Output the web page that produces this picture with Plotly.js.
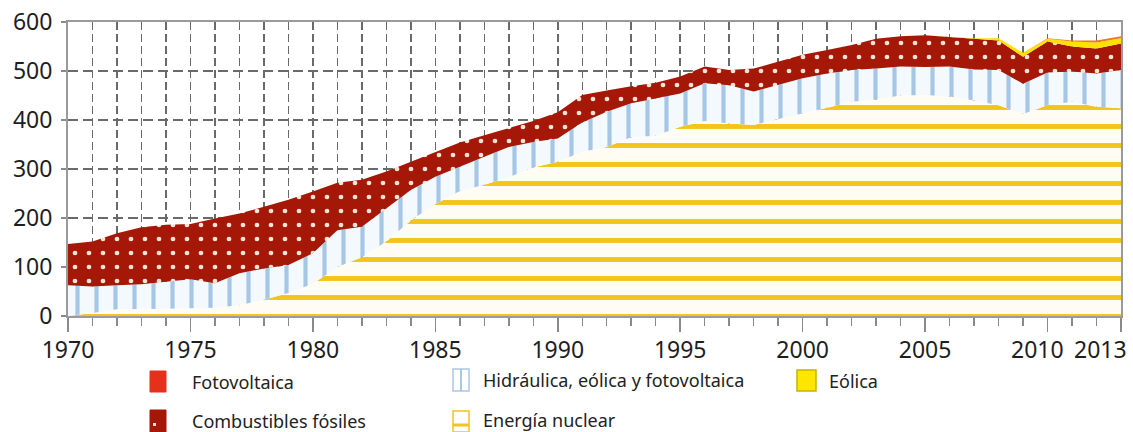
<!DOCTYPE html>
<html>
<head>
<meta charset="utf-8">
<script src="https://cdn.plot.ly/plotly-3.0.1.min.js"></script>
<style>
html,body{margin:0;padding:0;background:#ffffff;}
#chart{width:1133px;height:432px;}
</style>
</head>
<body>
<div id="chart"></div>
<script>
// ---- data ----
const years = [1970,1971,1972,1973,1974,1975,1976,1977,1978,1979,
               1980,1981,1982,1983,1984,1985,1986,1987,1988,1989,
               1990,1991,1992,1993,1994,1995,1996,1997,1998,1999,
               2000,2001,2002,2003,2004,2005,2006,2007,2008,2009,
               2010,2011,2012,2013];
// Energía nuclear
const nuclear = [0,6,14,14,15,16,17,22,33,47,
                 66,100,120,152,195,228,255,268,283,303,
                 315,335,345,365,368,386,398,393,390,402,
                 413,425,437,442,450,451,448,440,430,412,
                 430,437,427,424];
// Hidráulica, eólica y fotovoltaica
const hydro = [63,54,49,51,55,59,50,65,64,57,
               62,75,62,68,62,56,50,57,62,52,
               47,60,72,69,76,68,77,78,68,69,
               72,70,65,63,59,57,61,63,72,62,
               67,62,68,78];
// Combustibles fósiles
const fossil = [84,92,106,116,116,113,132,122,126,133,
                126,97,96,75,58,51,49,44,38,43,
                54,56,43,35,32,35,34,31,47,48,
                48,48,51,61,62,65,60,62,60,55,
                63,51,51,54];
// Eólica
const wind = [0,0,0,0,0,0,0,0,0,0,
              0,0,0,0,0,0,0,0,0,0,
              0,0,0,0,0,0,0,0,0,0,
              0,0,0,0,0,0,1,2,5,8,
              6,10,12,11];
// Fotovoltaica
const solar = [0,0,0,0,0,0,0,0,0,0,
               0,0,0,0,0,0,0,0,0,0,
               0,0,0,0,0,0,0,0,0,0,
               0,0,0,0,0,0,0,0,0,0,
               1,2,4,4];

const xTickVals = [1970,1975,1980,1985,1990,1995,2000,2005,2010,2013];
const xTickText = ['1970','1975','1980','1985','1990','1995','2000','2005','',''];
const xEdgeLabels = ['2010','2013'];   // drawn as annotations so they stay inside the page
const yTickVals = [0,100,200,300,400,500,600];
const yTickText = ['0','100','200','300','400','500','600'];

const labels = {
  solar: 'Fotovoltaica',
  fossil: 'Combustibles fósiles',
  hydro: 'Hidráulica, eólica y fotovoltaica',
  nuclear: 'Energía nuclear',
  wind: 'Eólica'
};

// ---- geometry ----
const W = 1133, H = 432;
const PL = 68, PR = 1121, PT = 22, PB = 316;
const xp = px => (px - PL) / (PR - PL);
const yp = py => (PB - py) / (PB - PT);

const FONT = 'Noto Sans, Open Sans, DejaVu Sans, sans-serif';
const TICKFONT = {family: FONT, size: 23, color: '#1e1e1e'};

const traces = [
  {
    x: years, y: nuclear, name: labels.nuclear, stackgroup: 'one', mode: 'lines',
    line: {width: 0, color: '#f2c417'},
    fillcolor: '#fffdf3',
    fillpattern: {shape: '-', fgcolor: '#f2c41c', bgcolor: '#fffdf3', size: 19, solidity: 0.26},
    showlegend: false, hoverinfo: 'skip'
  },
  {
    x: years, y: hydro, name: labels.hydro, stackgroup: 'one', mode: 'lines',
    line: {width: 0, color: '#a9c8e6'},
    fillcolor: '#f4f9fd',
    fillpattern: {shape: '|', fgcolor: '#a6c6e6', bgcolor: '#f4f9fd', size: 19, solidity: 0.22},
    showlegend: false, hoverinfo: 'skip'
  },
  {
    x: years, y: fossil, name: labels.fossil, stackgroup: 'one', mode: 'lines',
    line: {width: 0, color: '#a81a0a'},
    fillcolor: '#a51808',
    fillpattern: {shape: '.', fgcolor: '#fbe3d6', bgcolor: '#a51808', size: 14, solidity: 0.09},
    showlegend: false, hoverinfo: 'skip'
  },
  {
    x: years, y: wind, name: labels.wind, stackgroup: 'one', mode: 'lines',
    line: {width: 0, color: '#ffe000'},
    fillcolor: '#ffe100',
    showlegend: false, hoverinfo: 'skip'
  },
  {
    x: years, y: solar, name: labels.solar, stackgroup: 'one', mode: 'lines',
    line: {width: 0, color: '#e8501c'},
    fillcolor: '#ee7a1c',
    showlegend: false, hoverinfo: 'skip'
  }
];

// ---- manual legend ----
const shapes = [];
const annotations = [];
function rect(x0, y0, x1, y1, fill, lineColor, lw) {
  shapes.push({type: 'rect', xref: 'paper', yref: 'paper',
    x0: xp(x0), x1: xp(x1), y0: yp(y1), y1: yp(y0),
    fillcolor: fill, line: {color: lineColor, width: lw}});
}
function seg(x0, y0, x1, y1, color, lw) {
  shapes.push({type: 'line', xref: 'paper', yref: 'paper',
    x0: xp(x0), x1: xp(x1), y0: yp(y0), y1: yp(y1),
    line: {color: color, width: lw}});
}
function label(text, px, py) {
  annotations.push({text: text, xref: 'paper', yref: 'paper', x: xp(px), y: yp(py),
    xanchor: 'left', yanchor: 'middle', showarrow: false,
    font: {family: FONT, size: 18, color: '#222222'}});
}
// Fotovoltaica
rect(150, 371, 166, 392, '#e5301c', '#e5301c', 1);
label(labels.solar, 190, 382);
// Combustibles fósiles
rect(150, 410, 166, 432, '#a51808', '#a51808', 1);
rect(153, 423, 156, 426, '#fbe3d6', '#fbe3d6', 0);
label(labels.fossil, 190, 421);
// Hidráulica
rect(453, 369, 469, 391, '#ffffff', '#a9c8e6', 1.5);
seg(461, 369, 461, 391, '#a9c8e6', 2);
label(labels.hydro, 481, 380);
// Energía nuclear
rect(453, 411, 469, 432, '#ffffff', '#f2c41c', 1.5);
seg(453, 425, 469, 425, '#f2c41c', 3);
label(labels.nuclear, 481, 420);
// Eólica
rect(797, 370, 816, 391, '#ffe600', '#c8b400', 1.5);
label(labels.wind, 827, 381);

// edge tick labels (2010, 2013)
annotations.push({text: xEdgeLabels[0], xref: 'x', yref: 'paper', x: 2010, y: yp(349),
  xanchor: 'center', yanchor: 'middle', xshift: -10, showarrow: false, font: TICKFONT});
annotations.push({text: xEdgeLabels[1], xref: 'x', yref: 'paper', x: 2013, y: yp(349),
  xanchor: 'right', yanchor: 'middle', xshift: 8, showarrow: false, font: TICKFONT});

const layout = {
  width: W, height: H,
  margin: {l: PL, r: W - PR, t: PT, b: H - PB, pad: 0},
  paper_bgcolor: '#ffffff', plot_bgcolor: '#ffffff',
  showlegend: false,
  xaxis: {
    range: [1970, 2013], tickmode: 'array', tickvals: xTickVals, ticktext: xTickText,
    ticks: 'outside', ticklen: 14, tickwidth: 1.5, tickcolor: '#8a8a8a',
    showline: true, linecolor: '#9a9a9a', linewidth: 2, mirror: true,
    showgrid: true, gridcolor: '#6a6a6a', gridwidth: 1.5, griddash: '8px,4px',
    zeroline: false,
    minor: {tickmode: 'linear', tick0: 1970, dtick: 1, ticks: 'outside', ticklen: 8,
            tickwidth: 1.5, tickcolor: '#8a8a8a', showgrid: true, gridcolor: '#6a6a6a',
            gridwidth: 1.5, griddash: '8px,4px'},
    tickfont: TICKFONT,
    ticklabelstandoff: -2,
    fixedrange: true
  },
  yaxis: {
    range: [0, 600], tickmode: 'array', tickvals: yTickVals, ticktext: yTickText,
    ticks: 'outside', ticklen: 5, tickwidth: 1.5, tickcolor: '#8a8a8a',
    showline: true, linecolor: '#9a9a9a', linewidth: 2, mirror: true,
    showgrid: true, gridcolor: '#6a6a6a', gridwidth: 1.5, griddash: '10px,5px',
    zeroline: false,
    tickfont: TICKFONT,
    ticklabelstandoff: 4,
    fixedrange: true
  },
  shapes: shapes,
  annotations: annotations
};

Plotly.newPlot('chart', traces, layout, {staticPlot: true, displayModeBar: false});
</script>
</body>
</html>
